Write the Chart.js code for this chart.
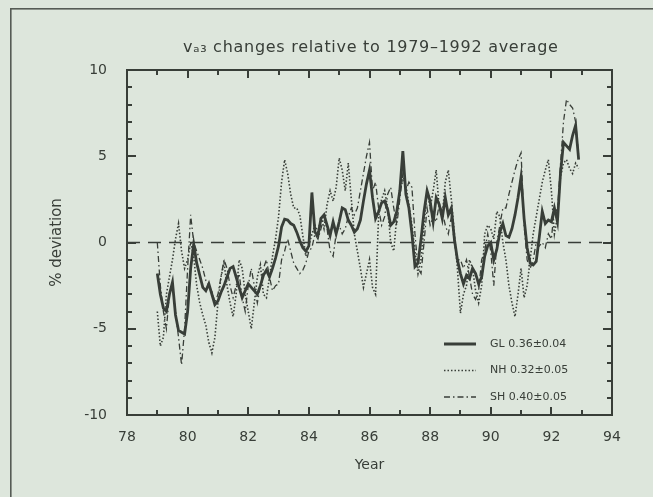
<!DOCTYPE html>
<html>
<head>
<meta charset="utf-8">
<script src="https://cdn.jsdelivr.net/npm/chart.js@4"></script>
<style>
  html, body { margin: 0; padding: 0; background: #dde6dc; }
  canvas { display: block; }
</style>
</head>
<body>
<canvas id="chart" width="653" height="497"></canvas>
<script>
// time axis (decimal years, 19xx)
const years = [
  79.0, 79.1, 79.2, 79.3, 79.4, 79.5, 79.6, 79.7, 79.8, 79.9,
  80.0, 80.1, 80.2, 80.3, 80.4, 80.5, 80.6, 80.7, 80.8, 80.9,
  81.0, 81.1, 81.2, 81.3, 81.4, 81.5, 81.6, 81.7, 81.8, 81.9,
  82.0, 82.1, 82.2, 82.3, 82.4, 82.5, 82.6, 82.7, 82.8, 82.9,
  83.0, 83.1, 83.2, 83.3, 83.4, 83.5, 83.6, 83.7, 83.8, 83.9,
  84.0, 84.1, 84.2, 84.3, 84.4, 84.5, 84.6, 84.7, 84.8, 84.9,
  85.0, 85.1, 85.2, 85.3, 85.4, 85.5, 85.6, 85.7, 85.8, 85.9,
  86.0, 86.1, 86.2, 86.3, 86.4, 86.5, 86.6, 86.7, 86.8, 86.9,
  87.0, 87.1, 87.2, 87.3, 87.4, 87.5, 87.6, 87.7, 87.8, 87.9,
  88.0, 88.1, 88.2, 88.3, 88.4, 88.5, 88.6, 88.7, 88.8, 88.9,
  89.0, 89.1, 89.2, 89.3, 89.4, 89.5, 89.6, 89.7, 89.8, 89.9,
  90.0, 90.1, 90.2, 90.3, 90.4, 90.5, 90.6, 90.7, 90.8, 90.9,
  91.0, 91.1, 91.2, 91.3, 91.4, 91.5, 91.6, 91.7, 91.8, 91.9,
  92.0, 92.1, 92.2, 92.3, 92.4, 92.5, 92.6, 92.7, 92.8, 92.9
];

// global
const gl = [
  -1.8, -3.0, -3.8, -4.0, -3.0, -2.3, -4.2, -5.1, -5.2, -5.3,
  -4.0, -1.5, -0.1, -1.2, -1.9, -2.6, -2.8, -2.4, -3.0, -3.6,
  -3.4, -2.9, -2.5, -2.0, -1.5, -1.4, -2.0, -2.6, -3.2, -2.8,
  -2.4, -2.6, -2.8, -3.0, -2.5, -1.9, -1.6, -2.0, -1.5, -0.9,
  -0.2, 0.9, 1.35, 1.3, 1.1, 1.0, 0.6, 0.1, -0.3, -0.5,
  -0.2, 2.9, 0.6, 0.4, 1.4, 1.6, 1.0, 0.4, 1.2, 0.5,
  1.2, 2.0, 1.9, 1.3, 1.0, 0.6, 0.8, 1.3, 2.4, 3.4,
  4.2, 2.6, 1.4, 1.8, 2.3, 2.4, 1.9, 1.0, 1.2, 1.8,
  3.0, 5.3, 2.8, 2.0, 0.5, -1.4, -1.2, 0.2, 1.8, 3.0,
  2.4, 1.2, 2.6, 2.2, 1.4, 2.6, 1.6, 2.0, 0.2, -1.0,
  -1.8, -2.4, -1.9, -2.1, -1.5, -1.8, -2.4, -2.0, -0.8, -0.2,
  0.0, -1.0, -0.4, 0.6, 1.1, 0.4, 0.3, 0.8, 1.6, 2.6,
  3.8, 1.4, -0.3, -1.2, -1.3, -1.1, 0.3, 1.8, 1.1, 1.3,
  1.2, 2.0, 1.2, 4.0, 5.8, 5.6, 5.4, 6.2, 6.8, 4.8
];

// northern hemisphere
const nh = [
  -4.0, -6.0, -5.5, -3.0, -2.0, -1.0, 0.2, 1.1, -0.5, -1.5,
  -1.0, 0.0, -0.8, -2.5, -3.5, -4.2, -4.8, -5.8, -6.4, -5.5,
  -3.5, -2.0, -1.2, -2.5, -3.5, -4.3, -3.0, -1.0, -1.5, -3.0,
  -4.0, -5.0, -3.5, -2.0, -1.3, -3.0, -3.2, -2.0, -0.8, 0.2,
  1.5, 3.5, 4.8, 4.0, 2.8, 2.0, 2.0, 1.6, 0.4, -0.8,
  -0.2, 0.5, 1.0, 0.6, 1.5, 0.8, 2.2, 3.0, 2.4, 3.2,
  4.9, 4.2, 3.0, 4.6, 2.5, 0.5, -0.5, -1.5, -2.6, -1.8,
  -1.0, -2.6, -3.0, 1.5, 2.5, 3.0, 2.0, 0.0, -0.5, 1.5,
  3.0, 3.6, 3.3, 2.2, 1.0, -0.5, -1.8, -1.0, 1.0, 3.0,
  2.0, 3.0, 4.2, 2.0, 1.5, 3.5, 4.2, 2.5, 0.5, -1.5,
  -4.1, -3.0, -2.5, -1.0, -1.5, -2.8, -3.5, -2.5, 0.5, 1.0,
  0.8, 0.2, 1.8, 1.5, 0.0, -1.0, -2.5, -3.5, -4.3, -3.0,
  -1.5, -3.2, -2.5, -1.0, 0.5, 1.5, 2.5, 3.5, 4.2, 4.8,
  3.0, 0.5, 1.5, 3.8, 4.6, 4.8, 4.3, 4.0, 4.6, 4.3
];

// southern hemisphere
const sh = [
  0.0, -2.5, -4.0, -5.0, -3.0, -2.5, -4.0, -5.5, -7.1, -5.0,
  -1.5, 1.6, 0.0, -0.5, -1.0, -1.5, -2.2, -2.5, -2.8, -3.5,
  -3.0, -2.0, -1.0, -1.5, -2.5, -3.2, -2.5, -1.8, -3.2, -4.0,
  -2.5, -1.5, -2.5, -3.5, -2.5, -1.5, -1.0, -2.0, -2.8, -2.5,
  -2.4, -1.0, -0.5, 0.2, -0.5, -1.2, -1.5, -1.8, -1.6, -1.2,
  -0.5, -0.3, 0.5, 0.2, 0.8, 1.5, 0.8, -0.5, -0.8, 0.5,
  1.0, 0.5, 0.8, 1.5, 2.0, 1.6, 2.0, 3.0, 4.0, 5.0,
  5.8, 3.0, 3.5, 2.0, 1.0, 1.5, 2.8, 3.2, 2.0, 1.0,
  2.5, 4.0, 3.0, 3.5, 3.2, 0.5, -1.5, -1.8, 0.0, 2.0,
  1.0, 1.5, 1.2, 2.2, 1.8, 1.0, 0.5, 1.5, 0.0, -1.0,
  -1.0, -1.5, -1.0, -2.0, -3.0, -3.3, -2.8, -1.0, -0.5, 0.5,
  -0.5, -2.5, 0.0, 1.0, 2.0, 2.0, 2.8, 3.5, 4.2, 4.8,
  5.2, 1.0, -1.0, -1.5, -1.0, 0.0, -0.2, 0.0, -0.3, 0.5,
  0.2, 2.0, 1.8, 4.5, 7.0, 8.3, 8.0, 7.8, 7.0, 5.0
];

const seriesLabels = ['GL 0.36±0.04', 'NH 0.32±0.05', 'SH 0.40±0.05'];
const chartTitle = 'vₐ₃ changes relative to 1979–1992 average';
const xRange = [78, 94];
const yRange = [-10, 10];

const ink = '#383e38';
const fontFamily = "'DejaVu Sans', sans-serif";

function pts(vals) {
  return years.map((y, i) => ({ x: y, y: vals[i] }));
}

// background, outer frame, title, zero line
const backdrop = {
  id: 'backdrop',
  beforeDraw(chart) {
    const c = chart.ctx;
    c.save();
    c.fillStyle = '#dde6dc';
    c.fillRect(0, 0, chart.width, chart.height);
    // page frame: only the top and left edges fall inside the picture
    c.fillStyle = '#555b55';
    c.fillRect(10, 8, chart.width - 10, 1.6);
    c.fillRect(10, 8, 1.6, chart.height - 8);
    // title stretched to the width it has in the original
    c.fillStyle = ink;
    c.font = '16px ' + fontFamily;
    c.textAlign = 'left';
    c.textBaseline = 'middle';
    const w = c.measureText(chartTitle).width;
    c.letterSpacing = ((375 - w) / (chartTitle.length - 1)).toFixed(2) + 'px';
    c.fillText(chartTitle, 183, 48);
    c.restore();
  },
  beforeDatasetsDraw(chart) {
    const c = chart.ctx, a = chart.chartArea, y0 = chart.scales.y.getPixelForValue(0);
    c.save();
    c.strokeStyle = ink;
    c.lineWidth = 1.5;
    c.setLineDash([13, 8]);
    c.beginPath();
    c.moveTo(a.left, y0);
    c.lineTo(a.right, y0);
    c.stroke();
    c.restore();
  }
};

// plot frame and inward ticks as thin filled bars, then the legend
const overlay = {
  id: 'overlay',
  afterDraw(chart) {
    const c = chart.ctx, a = chart.chartArea;
    const xs = chart.scales.x, ys = chart.scales.y;
    const L = Math.round(a.left), R = Math.round(a.right), T = Math.round(a.top), B = Math.round(a.bottom);
    c.save();
    c.fillStyle = ink;
    c.fillRect(L - 1, T - 1, R - L + 2, 2);
    c.fillRect(L - 1, B - 1, R - L + 2, 2);
    c.fillRect(L - 1, T - 1, 2, B - T + 2);
    c.fillRect(R - 1, T - 1, 2, B - T + 2);
    for (let v = xRange[0] + 1; v < xRange[1]; v++) {
      const px = Math.round(xs.getPixelForValue(v)), len = v % 2 === 0 ? 8 : 5;
      c.fillRect(px - 1, B - len, 2, len);
      c.fillRect(px - 1, T, 2, len);
    }
    for (let v = yRange[0] + 1; v < yRange[1]; v++) {
      const py = Math.round(ys.getPixelForValue(v)), len = v % 5 === 0 ? 9 : 5;
      c.fillRect(L, py - 1, len, 2);
      c.fillRect(R - len, py - 1, len, 2);
    }

    // legend, lower right inside the plot
    c.font = '11px ' + fontFamily;
    c.textBaseline = 'middle';
    chart.data.datasets.forEach((ds, i) => {
      const ly = 344 + i * 26.5;
      c.strokeStyle = ds.borderColor;
      c.lineWidth = ds.borderWidth;
      c.setLineDash(ds.borderDash || []);
      c.beginPath();
      c.moveTo(444, ly);
      c.lineTo(476, ly + 0.01);
      c.stroke();
      c.fillText(ds.label, 490, ly);
    });
    c.restore();
  }
};

new Chart(document.getElementById('chart'), {
  type: 'line',
  data: {
    datasets: [
      { label: seriesLabels[0], data: pts(gl), borderColor: ink, borderWidth: 2.8, pointRadius: 0, tension: 0 },
      { label: seriesLabels[1], data: pts(nh), borderColor: ink, borderWidth: 1.6, borderDash: [1.5, 2], pointRadius: 0, tension: 0 },
      { label: seriesLabels[2], data: pts(sh), borderColor: ink, borderWidth: 1.3, borderDash: [6, 3, 1.5, 3], pointRadius: 0, tension: 0 }
    ]
  },
  options: {
    responsive: false,
    animation: false,
    layout: { padding: { left: 0, right: 41, top: 70, bottom: 0 } },
    plugins: {
      legend: { display: false },
      tooltip: { enabled: false },
      title: { display: false }
    },
    scales: {
      x: {
        type: 'linear',
        min: xRange[0],
        max: xRange[1],
        afterFit(s) { s.height = 82; },
        grid: { display: false, drawTicks: false },
        border: { display: false },
        ticks: { stepSize: 2, color: ink, padding: 14, font: { family: fontFamily, size: 14 } },
        title: { display: true, text: 'Year', color: ink, padding: { bottom: 23 }, font: { family: fontFamily, size: 14 } }
      },
      y: {
        min: yRange[0],
        max: yRange[1],
        afterFit(s) { s.width = 127; },
        grid: { display: false, drawTicks: false },
        border: { display: false },
        ticks: { stepSize: 5, color: ink, padding: 20, font: { family: fontFamily, size: 14 } },
        title: { display: true, text: '% deviation', color: ink, padding: { top: 48 }, font: { family: fontFamily, size: 15 } }
      }
    }
  },
  plugins: [backdrop, overlay]
});
</script>
</body>
</html>
